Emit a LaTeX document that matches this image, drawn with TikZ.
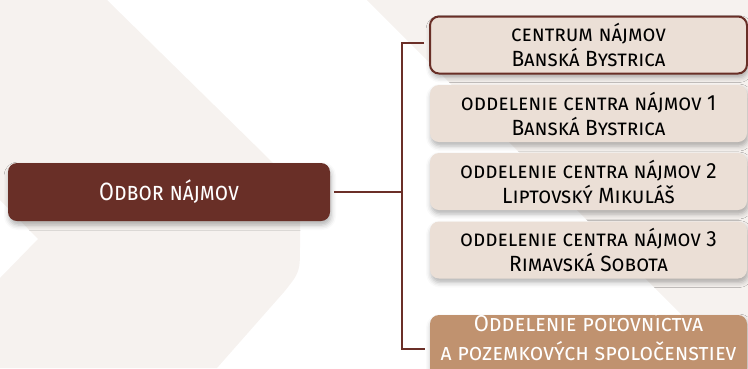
\documentclass[tikz,border=0pt]{standalone}
\usepackage{fontspec}
\newfontfamily\boxfont{Fira Sans}[FakeStretch=0.95, Letters=SmallCaps]
\newfontfamily\headfont{Fira Sans}[FakeStretch=0.86, Letters=SmallCaps]
\usetikzlibrary{shadows.blur}
\definecolor{bgbeige}{HTML}{F6F2EF}
\definecolor{darkbrown}{HTML}{692F27}
\definecolor{lightbox}{HTML}{EBDFD6}
\definecolor{tanbox}{HTML}{C0926F}
\definecolor{linebrown}{HTML}{6B2F28}
\tikzset{
  shade box/.style={rounded corners=9pt, blur shadow={shadow xshift=1pt, shadow yshift=-4pt, shadow blur radius=5pt, shadow opacity=30}},
  mainbox/.style={shade box, fill=darkbrown, text=white, minimum width=322pt, minimum height=58pt, inner sep=0pt, align=center, font=\headfont\fontsize{25}{30}\selectfont},
  unitbox/.style={shade box, fill=lightbox, text=black, minimum width=317pt, minimum height=57pt, inner sep=0pt, align=center, font=\boxfont\fontsize{22}{25}\selectfont},
  headbox/.style={unitbox, draw=darkbrown, line width=2pt},
  tanunit/.style={shade box, fill=tanbox, minimum width=317pt, minimum height=64pt, inner sep=0pt},
  tantext/.style={text=white, inner sep=0pt, align=center, font=\boxfont\fontsize{23}{29}\selectfont},
  link/.style={draw=linebrown, line width=1.6pt}
}
\begin{document}
\begin{tikzpicture}[x=1pt, y=-1pt]
\useasboundingbox (0,0) rectangle (748,368);
% background shapes
\fill[bgbeige] (0,0) -- (107,0) -- (267,157) .. controls (300,190) .. (300,225) -- (300,245)
  .. controls (300,272) .. (284,292) -- (217,368) -- (0,368) -- (0,278) -- (38,239) -- (0,200) -- cycle;
\fill[bgbeige] (367,0) -- (748,0) -- (748,368) -- (735,368) -- cycle;
% boxes
\node[mainbox] (odbor) at (169,192) {Odbor nájmov};
\node[headbox] (c0) at (588.5,45) {centrum nájmov\\Banská Bystrica};
\node[unitbox] (c1) at (588.5,113.5) {oddelenie centra nájmov 1\\Banská Bystrica};
\node[unitbox] (c2) at (588.5,181.5) {oddelenie centra nájmov 2\\Liptovský Mikuláš};
\node[unitbox] (c3) at (588.5,250) {oddelenie centra nájmov 3\\Rimavská Sobota};
\node[tanunit] (c4) at (588.5,347) {};
\node[tantext, anchor=base] (c4t) at (588.5,360) {Oddelenie poľovníctva\\a pozemkových spoločenstiev};
% connectors
\coordinate (bus) at (402,192);
\draw[link] ([xshift=4pt]odbor.east) -- (bus);
\draw[link] ([xshift=-5pt,yshift=2pt]c0.west) -| (bus) |- ([xshift=-5pt,yshift=-2pt]c4.west);
\end{tikzpicture}
\end{document}
